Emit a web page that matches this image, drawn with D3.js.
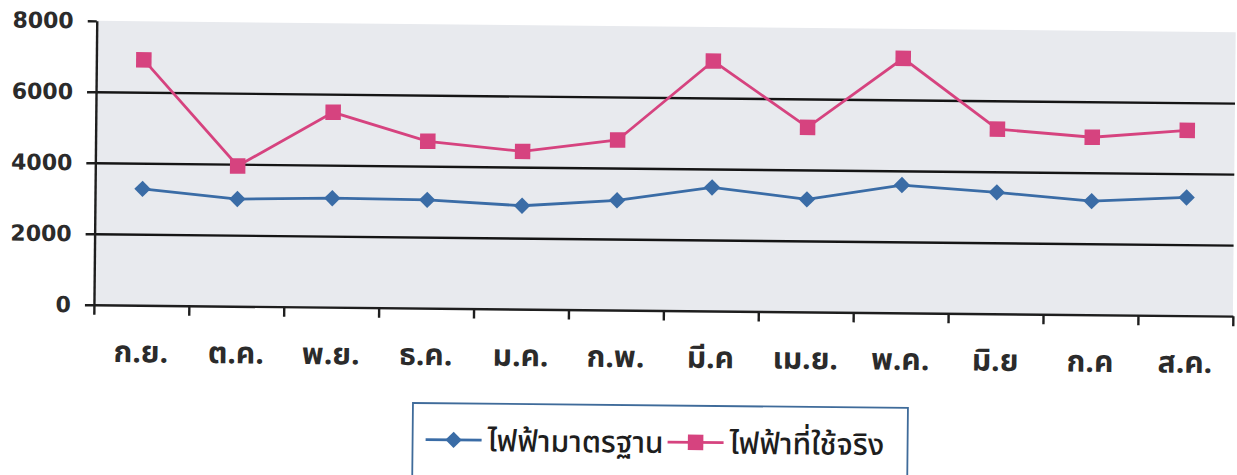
<!DOCTYPE html>
<html>
<head>
<meta charset="utf-8">
<script src="https://cdn.jsdelivr.net/npm/d3@7"></script>
<style>
    body { margin: 0; background: #fff; }
    .thai { font-family: "Noto Sans Thai", "Noto Sans Thai UI", Tahoma, Loma, Garuda, "Noto Sans", sans-serif; }
</style>
</head>
<body>
<svg id="chart"></svg>
<script>
var months = ["ก.ย.", "ต.ค.", "พ.ย.", "ธ.ค.", "ม.ค.", "ก.พ.", "มี.ค", "เม.ย.", "พ.ค.", "มิ.ย", "ก.ค", "ส.ค."]
var standard = [3280, 3020, 3070, 3050, 2910, 3090, 3480, 3170, 3600, 3420, 3200, 3330]
var actual = [6915, 3950, 5490, 4700, 4440, 4790, 7040, 5200, 7170, 5200, 5000, 5220]
var yTicks = [0, 2000, 4000, 6000, 8000]
var gridTicks = [2000, 4000, 6000]
var seriesNames = ["ไฟฟ้ามาตรฐาน", "ไฟฟ้าที่ใช้จริง"]

var width = 1237
var height = 475
var blue = "#3a6ca6", pink = "#d6437f"

var svg = d3.select("#chart")
    .attr("width", width)
    .attr("height", height)

// the scan is a little tilted
var root = svg.append("g")
    .attr("transform", "rotate(0.57, 666, 200)")

var pl = 95, pr = 1234, pt = 26.5, pb = 310.5

var x = d3.scaleBand().domain(months).range([pl, pr])
var xEdge = d3.scaleLinear().domain([0, months.length]).range([pl, pr])
var y = d3.scaleLinear().domain([0, 8000]).range([pb, pt])

root.append("rect")
    .attr("x", pl)
    .attr("y", pt)
    .attr("width", pr - pl)
    .attr("height", pb - pt)
    .attr("fill", "#e8eaee")

// gridlines
root.append("g")
    .attr("transform", "translate(" + pl + ",0)")
    .call(d3.axisLeft(y).tickValues(gridTicks).tickSize(-(pr - pl)).tickFormat(""))
    .call(g => g.select(".domain").remove())
    .selectAll("line")
    .attr("stroke", "#151515")
    .attr("stroke-width", 2.4)

// y axis
var yAxis = root.append("g")
    .attr("transform", "translate(" + pl + ",0)")
    .call(d3.axisLeft(y).tickValues(yTicks).tickSize(9).tickPadding(14).tickSizeOuter(0).tickFormat(d3.format("d")))
yAxis.selectAll("path, line").attr("stroke", "#1e1e1e").attr("stroke-width", 2.4)
yAxis.selectAll("text")
    .attr("fill", "#2b2b2b")
    .style("font-family", "'DejaVu Sans', sans-serif")
    .style("font-weight", "bold")
    .style("font-size", "22px")

// x axis tick marks on band edges
var xAxis = root.append("g")
    .attr("transform", "translate(0," + pb + ")")
    .call(d3.axisBottom(xEdge).tickValues(d3.range(months.length + 1)).tickSize(10).tickSizeOuter(0).tickFormat(""))
xAxis.selectAll("path, line").attr("stroke", "#1e1e1e").attr("stroke-width", 2.4)

// x labels
var xLab = root.append("g")
    .attr("transform", "translate(0," + pb + ")")
    .call(d3.axisBottom(x).tickSize(0))
xLab.select(".domain").remove()
xLab.selectAll("text")
    .attr("class", "thai")
    .attr("y", 57)
    .attr("dy", null)
    .attr("fill", "#2b2b2b")
    .style("font-weight", "bold")
    .style("font-size", "30px")

var line = d3.line()
    .x(function(d, i) { return x(months[i]) + x.bandwidth() / 2 })
    .y(function(d) { return y(d) })

var diamond = d3.symbol().type(d3.symbolSquare).size(135)
var square = d3.symbol().type(d3.symbolSquare).size(240)

root.append("path")
    .datum(standard)
    .attr("fill", "none")
    .attr("stroke", blue)
    .attr("stroke-width", 2.8)
    .attr("d", line)

root.append("path")
    .datum(actual)
    .attr("fill", "none")
    .attr("stroke", pink)
    .attr("stroke-width", 2.8)
    .attr("d", line)

root.selectAll(".dia")
    .data(standard)
    .enter()
    .append("path")
    .attr("class", "dia")
    .attr("d", diamond)
    .attr("fill", blue)
    .attr("transform", function(d, i) {
        return "translate(" + (x(months[i]) + x.bandwidth() / 2) + "," + y(d) + ") rotate(45)"
    })

root.selectAll(".sq")
    .data(actual)
    .enter()
    .append("path")
    .attr("class", "sq")
    .attr("d", square)
    .attr("fill", pink)
    .attr("transform", function(d, i) {
        return "translate(" + (x(months[i]) + x.bandwidth() / 2) + "," + y(d) + ")"
    })

// legend
var legend = root.append("g")
legend.append("rect")
    .attr("x", 415)
    .attr("y", 405.5)
    .attr("width", 495)
    .attr("height", 90)
    .attr("fill", "#fff")
    .attr("stroke", "#3f6b9a")
    .attr("stroke-width", 1.8)

var items = [
    {name: seriesNames[0], color: blue, sym: diamond, rot: 45, x0: 428},
    {name: seriesNames[1], color: pink, sym: square, rot: 0, x0: 670}
]
var li = legend.selectAll("g.item")
    .data(items)
    .enter()
    .append("g")
    .attr("class", "item")
    .attr("transform", function(d) { return "translate(" + d.x0 + ",442)" })
li.append("line")
    .attr("x1", 0).attr("x2", 56)
    .attr("stroke", function(d) { return d.color })
    .attr("stroke-width", 2.8)
li.append("path")
    .attr("d", function(d) { return d.sym() })
    .attr("fill", function(d) { return d.color })
    .attr("transform", function(d) { return "translate(28,0) rotate(" + d.rot + ")" })
li.append("text")
    .attr("class", "thai")
    .attr("x", 62)
    .attr("y", 11)
    .attr("fill", "#1e1e1e")
    .style("font-size", "30px")
    .style("font-weight", "500")
    .text(function(d) { return d.name })
</script>
</body>
</html>
